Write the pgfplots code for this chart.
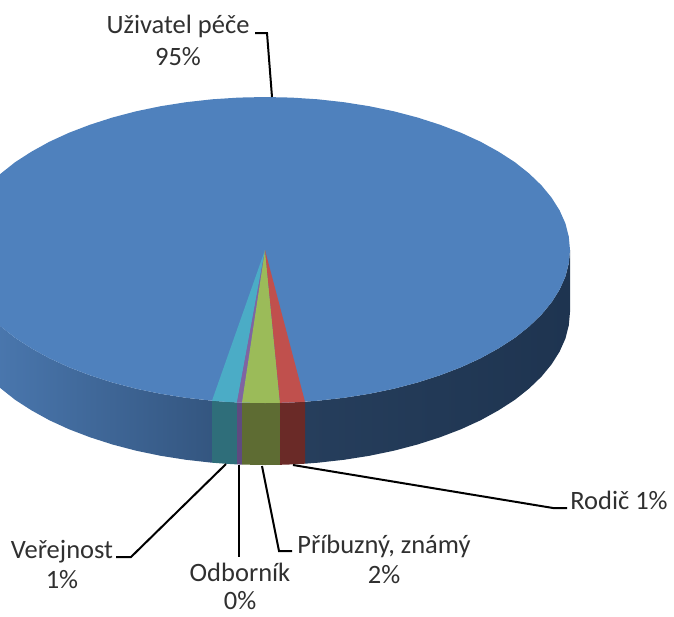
\documentclass[border=0pt]{standalone}
\usepackage{pgfplots}
\pgfplotsset{compat=1.18}
\usepackage{fontspec}
\setmainfont{Carlito}
\definecolor{topblue}{HTML}{4F81BD}
\definecolor{topcyan}{HTML}{4BACC6}
\definecolor{toppurple}{HTML}{8064A2}
\definecolor{topgreen}{HTML}{9BBB59}
\definecolor{topred}{HTML}{C0504D}
\definecolor{sidecyan}{HTML}{2F6E7A}
\definecolor{sidepurple}{HTML}{5F4A80}
\definecolor{sidegreen}{HTML}{5E6C33}
\definecolor{sidered}{HTML}{6A2A27}
\definecolor{sideleftA}{HTML}{4D7CB5}
\definecolor{sideleftB}{HTML}{345680}
\definecolor{siderightA}{HTML}{263E5C}
\definecolor{siderightB}{HTML}{1E3450}
\definecolor{txt}{HTML}{303030}
\begin{document}
\begin{tikzpicture}
\useasboundingbox (0,0) rectangle (674pt,616pt);
\begin{axis}[
  at={(0,0)},anchor=south west,
  width=674pt,height=616pt,scale only axis,
  xmin=0,xmax=674,ymin=0,ymax=616,y dir=reverse,
  hide axis,clip=true,
  every axis plot/.append style={no markers,forget plot},
]
% left side wall (Uzivatel pece)
\addplot[draw=none,left color=sideleftA,right color=sideleftB] coordinates {
(212,400.7)(186.1,397.8)(160.7,393.8)(136.1,388.7)(112.5,382.5)(90.1,375.3)(68.9,367.2)(49.3,358.2)(31.4,348.3)(15.1,337.8)(0.9,326.5)(-11.4,314.7)(-21.6,302.3)(-29.6,289.6)(-35.4,276.6)(-38.8,263.3)(-40,250)
(-40,312)(-38.8,325.3)(-35.4,338.6)(-29.6,351.6)(-21.6,364.3)(-11.4,376.7)(0.9,388.5)(15.1,399.8)(31.4,410.3)(49.3,420.2)(68.9,429.2)(90.1,437.3)(112.5,444.5)(136.1,450.7)(160.7,455.8)(186.1,459.8)(212,462.7)
} -- cycle;
% right side wall (Uzivatel pece)
\addplot[draw=none,left color=siderightA,right color=siderightB] coordinates {
(305,401.7)(317.9,400.7)(343.9,397.8)(369.3,393.8)(393.9,388.7)(417.5,382.5)(439.9,375.3)(461.1,367.2)(480.7,358.2)(498.6,348.3)(514.9,337.8)(529.1,326.5)(541.4,314.7)(551.6,302.3)(559.6,289.6)(565.4,276.6)(568.8,263.3)(570,250)
(570,312)(568.8,325.3)(565.4,338.6)(559.6,351.6)(551.6,364.3)(541.4,376.7)(529.1,388.5)(514.9,399.8)(498.6,410.3)(480.7,420.2)(461.1,429.2)(439.9,437.3)(417.5,444.5)(393.9,450.7)(369.3,455.8)(343.9,459.8)(317.9,462.7)(305,463.7)
} -- cycle;
% side walls of the small slices
\addplot[draw=none,fill=sidecyan] coordinates {(212,400.7)(225,401.7)(237,402.4)(237,464.4)(225,463.7)(212,462.7)} -- cycle;
\addplot[draw=none,fill=sidepurple] coordinates {(237,402.4)(242,402.6)(242,464.6)(237,464.4)} -- cycle;
\addplot[draw=none,fill=sidegreen] coordinates {(242,402.6)(265,403)(280,402.8)(280,464.8)(265,465)(242,464.6)} -- cycle;
\addplot[draw=none,fill=sidered] coordinates {(280,402.8)(292,402.4)(305,401.7)(305,463.7)(292,464.4)(280,464.8)} -- cycle;
% top face
\addplot[draw=none,fill=topblue] coordinates {
(570,250)(568.8,263.3)(565.4,276.6)(559.6,289.6)(551.6,302.3)(541.4,314.7)(529.1,326.5)(514.9,337.8)(498.6,348.3)(480.7,358.2)(461.1,367.2)(439.9,375.3)(417.5,382.5)(393.9,388.7)(369.3,393.8)(343.9,397.8)(317.9,400.7)(291.6,402.4)(265,403)(238.4,402.4)(212.1,400.7)(186.1,397.8)(160.7,393.8)(136.1,388.7)(112.5,382.5)(90.1,375.3)(68.9,367.2)(49.3,358.2)(31.4,348.3)(15.1,337.8)(0.9,326.5)(-11.4,314.7)(-21.6,302.3)(-29.6,289.6)(-35.4,276.6)(-38.8,263.3)(-40,250)
(-38.8,236.7)(-35.4,223.4)(-29.6,210.4)(-21.6,197.7)(-11.4,185.3)(0.9,173.5)(15.1,162.2)(31.4,151.7)(49.3,141.8)(68.9,132.8)(90.1,124.7)(112.5,117.5)(136.1,111.3)(160.7,106.2)(186.1,102.2)(212.1,99.3)(238.4,97.6)(265,97)(291.6,97.6)(317.9,99.3)(343.9,102.2)(369.3,106.2)(393.9,111.3)(417.5,117.5)(439.9,124.7)(461.1,132.8)(480.7,141.8)(498.6,151.7)(514.9,162.2)(529.1,173.5)(541.4,185.3)(551.6,197.7)(559.6,210.4)(565.4,223.4)(568.8,236.7)
} -- cycle;
% top wedges
\addplot[draw=none,fill=topcyan] coordinates {(265,250)(212,400.7)(225,401.7)(237,402.4)} -- cycle;
\addplot[draw=none,fill=toppurple] coordinates {(265,250)(237,402.4)(242,402.6)} -- cycle;
\addplot[draw=none,fill=topgreen] coordinates {(265,250)(242,402.6)(265,403)(280,402.8)} -- cycle;
\addplot[draw=none,fill=topred] coordinates {(265,250)(280,402.8)(292,402.4)(305,401.7)} -- cycle;
% leader lines
\addplot[black,line width=2pt] coordinates {(255,33)(267,33)(272,97)};
\addplot[black,line width=2pt] coordinates {(293,465)(553,508)(567,508)};
\addplot[black,line width=2pt] coordinates {(262,466)(279,551)(292,551)};
\addplot[black,line width=2pt] coordinates {(239,465)(239,557)};
\addplot[black,line width=2pt] coordinates {(226,464)(131,557)(116,557)};
% labels
\tikzset{lab/.style={text=txt,inner sep=0pt,font=\fontsize{26.5}{30}\selectfont,align=center,anchor=center}}
\node[lab,font=\fontsize{26.5}{32}\selectfont] at (axis cs:178,40) {Uživatel péče\\95\%};
\node[lab] at (axis cs:619,500) {Rodič 1\%};
\node[lab] at (axis cs:384,559) {Příbuzný, známý\\2\%};
\node[lab,font=\fontsize{26.5}{28}\selectfont] at (axis cs:240,586.5) {Odborník\\0\%};
\node[lab] at (axis cs:62,564) {Veřejnost\\1\%};
\end{axis}
\end{tikzpicture}
\end{document}
